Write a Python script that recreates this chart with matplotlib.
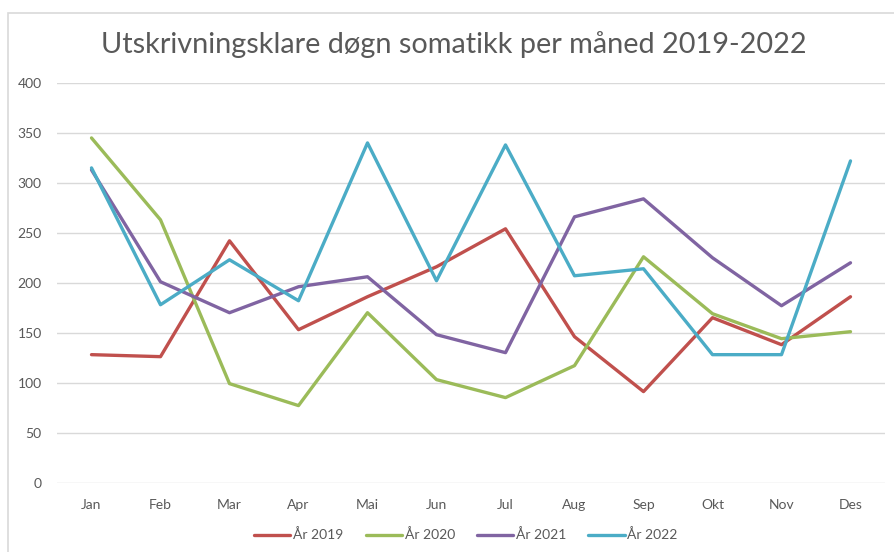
import matplotlib
matplotlib.use('Agg')
import matplotlib.pyplot as plt
from matplotlib.patches import Rectangle

months = ['Jan', 'Feb', 'Mar', 'Apr', 'Mai', 'Jun', 'Jul', 'Aug', 'Sep', 'Okt', 'Nov', 'Des']
y2019 = [128, 126, 242, 153, 186, 216, 254, 146, 91, 165, 138, 186]
y2020 = [345, 263, 99, 77, 170, 103, 85, 117, 226, 169, 144, 151]
y2021 = [313, 201, 170, 196, 206, 148, 130, 266, 284, 225, 177, 220]
y2022 = [315, 178, 223, 182, 340, 202, 338, 207, 214, 128, 128, 322]
labels = ['År 2019', 'År 2020', 'År 2021', 'År 2022']

plt.rcParams['font.family'] = ['Lato', 'DejaVu Sans']
grey = '#595959'

fig = plt.figure(figsize=(8.95, 5.52), dpi=100)
# chart frame
fig.patches.append(Rectangle((8 / 895, -0.1), 1.0, 1 - 13 / 552 + 0.1, transform=fig.transFigure,
                             fill=False, edgecolor='#d9d9d9', linewidth=1.2))

ax = fig.add_axes([57 / 895, 1 - 482.5 / 552, 828 / 895, 399.5 / 552])
x = range(len(months))
colors = ['#C0504D', '#9BBB59', '#8064A2', '#4BACC6']
for vals, lab, c in zip([y2019, y2020, y2021, y2022], labels, colors):
    ax.plot(x, vals, color=c, linewidth=2.4, label=lab, solid_joinstyle='round', solid_capstyle='round')

ax.set_xlim(-0.5, 11.5)
ax.set_ylim(0, 400)
ax.set_yticks(range(0, 401, 50))
ax.set_xticks(list(x))
ax.set_xticklabels(months)
ax.grid(axis='y', color='#d9d9d9', linewidth=1)
ax.set_axisbelow(True)
for s in ax.spines.values():
    s.set_visible(False)
ax.tick_params(length=0, colors=grey, labelsize=10)
ax.tick_params(axis='y', pad=11)
ax.tick_params(axis='x', pad=12)

fig.text(0.507, 1 - 45 / 552, 'Utskrivningsklare døgn somatikk per måned 2019-2022',
         ha='center', va='center', fontsize=20.8, color=grey)

fig.legend(loc='center', bbox_to_anchor=(466 / 895, 1 - 535 / 552), ncol=4, frameon=False,
           fontsize=10, handlelength=2.6, handletextpad=0.2, columnspacing=1.6,
           labelcolor=grey)

fig.savefig('out.png', dpi=100)
